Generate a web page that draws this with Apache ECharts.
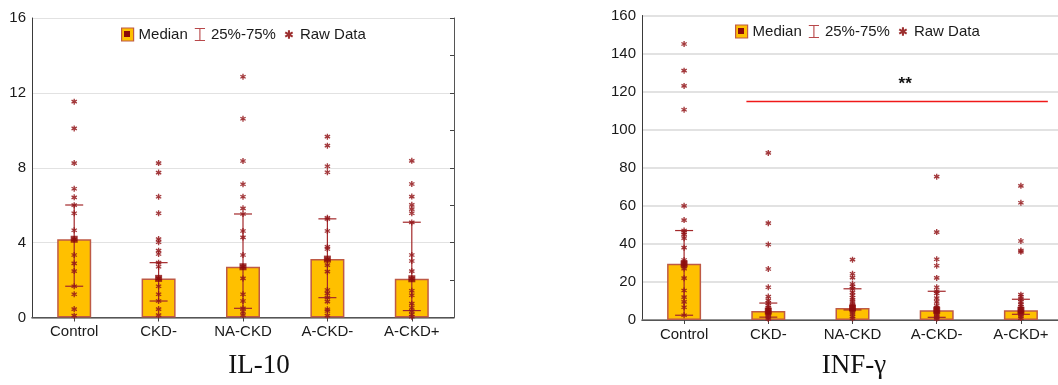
<!DOCTYPE html>
<html>
<head>
<meta charset="utf-8">
<script src="https://cdn.jsdelivr.net/npm/echarts@6/dist/echarts.min.js"></script>
<style>
html,body{margin:0;padding:0;background:#fff;overflow:hidden;}
#chart{width:1070px;height:385px;}
</style>
</head>
<body>
<div id="chart"></div>
<script>
// ---------- DATA ----------
const categories = ['Control', 'CKD-', 'NA-CKD', 'A-CKD-', 'A-CKD+'];

// IL-10
const il10Median = [4.18, 2.09, 2.71, 3.12, 2.07];
const il10Q1 = [1.67, 0.88, 0.49, 1.06, 0.37];
const il10Q3 = [6.01, 2.93, 5.53, 5.27, 5.09];
const il10Raw = [
  [11.53, 10.1, 8.25, 6.88, 6.42, 6.0, 5.57, 4.66, 4.18, 3.34, 2.89, 2.48, 1.67, 1.24, 0.45, 0.1],
  [8.25, 7.74, 6.45, 5.57, 4.19, 4.02, 3.57, 3.39, 2.93, 2.71, 2.09, 1.67, 1.24, 0.88, 0.45, 0.13],
  [12.86, 10.62, 8.36, 7.12, 6.45, 5.83, 5.53, 4.62, 4.28, 3.34, 2.71, 2.09, 1.24, 0.88, 0.49, 0.31, 0.13],
  [9.66, 9.18, 8.08, 7.76, 5.33, 5.26, 4.62, 3.77, 3.66, 3.11, 2.8, 2.45, 1.47, 1.29, 1.06, 0.85, 0.44, 0.35, 0.1],
  [8.37, 7.13, 6.46, 6.02, 5.79, 5.57, 5.08, 3.34, 3.02, 2.48, 2.07, 1.43, 1.19, 0.74, 0.52, 0.34, 0.16, 0.04]
];
const il10Ticks = [0, 4, 8, 12, 16];

// INF-gamma
const infMedian = [29.5, 4.7, 6.3, 5.1, 5.1];
const infQ1 = [2.5, 1.5, 5.3, 1.4, 3.0];
const infQ3 = [47.0, 8.9, 16.4, 15.1, 10.9];
const infRaw = [
  [145, 131, 123, 110.5, 60, 52.5, 47, 46, 45, 43, 38, 31.5, 30.5, 29.5, 28, 27, 22, 15.5, 12, 9.5, 6.7, 2.5],
  [87.8, 50.9, 39.7, 26.8, 17.2, 12.3, 10.3, 8.9, 7.5, 6.5, 5.5, 4.8, 4.2, 3.5, 2.8, 2.0, 1.2, 0.5],
  [31.7, 24.3, 22.3, 18.9, 17.6, 16.4, 14.5, 13, 11.7, 10.5, 9.6, 8.2, 7.4, 6.3, 5.6, 5.3, 4.2, 3.2, 1.8, 0.8],
  [75.3, 46.2, 31.9, 28.5, 22.1, 17.2, 15.1, 14, 11.5, 9.5, 7.5, 6.5, 5.8, 5.1, 4.3, 3.5, 2.6, 1.8, 1.4, 0.6],
  [70.5, 61.6, 41.5, 36.5, 35.8, 13.3, 12.2, 10.9, 9.5, 8.2, 7.0, 6.0, 5.1, 4.3, 3.5, 3.0, 2.0, 1.0]
];
const infTicks = [0, 20, 40, 60, 80, 100, 120, 140, 160];
const significance = { from: 'CKD-', to: 'A-CKD+', value: 115, label: '**' };

const legendNames = ['Median', '25%-75%', 'Raw Data'];
const chartTitles = ['IL-10', 'INF-γ'];

// ---------- STYLE ----------
const FONT = '"Liberation Sans", Arial, sans-serif';
const BAR_FILL = '#FFC000';
const BAR_BORDER = '#BE5A45';
const DARK_RED = '#8B0A0A';
const ERR_COLOR = '#A3282A';
const ASTERISK = 'path://M-1.1,-5L1.1,-5L1.1,5L-1.1,5Z M3.78,-3.45L4.88,-1.55L-3.78,3.45L-4.88,1.55Z M-4.88,-1.55L-3.78,-3.45L4.88,1.55L3.78,3.45Z';
const ASTERISK_LEGEND = 'path://M-7,-7L-6.99,-7L-7,-6.99Z M7,7L6.99,7L7,6.99Z M-1.2,-5L1.2,-5L1.2,5L-1.2,5Z M3.73,-3.539L4.93,-1.461L-3.73,3.539L-4.93,1.461Z M-4.93,-1.461L-3.73,-3.539L4.93,1.461L3.73,3.539Z';
const IBEAM = 'path://M0,0L11,0L11,1.2L6.1,1.2L6.1,12.8L11,12.8L11,14L0,14L0,12.8L4.9,12.8L4.9,1.2L0,1.2Z';

const chart = echarts.init(document.getElementById('chart'), null, { renderer: 'canvas' });

function errRender(params, api) {
  const x = api.value(0);
  const lo = api.coord([x, api.value(1)]);
  const hi = api.coord([x, api.value(2)]);
  const hw = 9;
  const st = { stroke: ERR_COLOR, lineWidth: 1.2 };
  return {
    type: 'group',
    children: [
      { type: 'line', shape: { x1: lo[0], y1: lo[1], x2: hi[0], y2: hi[1] }, style: st },
      { type: 'line', shape: { x1: lo[0] - hw, y1: lo[1], x2: lo[0] + hw, y2: lo[1] }, style: st },
      { type: 'line', shape: { x1: hi[0] - hw, y1: hi[1], x2: hi[0] + hw, y2: hi[1] }, style: st }
    ]
  };
}

function sigRender(params, api) {
  const a = api.coord([api.value(0), api.value(2)]);
  const b = api.coord([api.value(1), api.value(2)]);
  const band = api.size([1, 0])[0];
  const x1 = a[0] - band * 0.26;
  const x2 = b[0] + band * 0.32;
  const y = Math.round(a[1]) + 0.5;
  return {
    type: 'group',
    children: [
      { type: 'line', shape: { x1: x1, y1: y, x2: x2, y2: y }, style: { stroke: '#F01818', lineWidth: 1.6 } },
      { type: 'text', x: (x1 + x2) / 2 + 8, y: y - 17,
        style: { text: significance.label, font: 'bold 17px ' + FONT, fill: '#111', align: 'center', verticalAlign: 'middle', textAlign: 'center', textVerticalAlign: 'middle' } }
    ]
  };
}

function buildSeries(xi, yi, med, q1, q3, raw) {
  const rawData = [];
  raw.forEach((arr, i) => arr.forEach(v => rawData.push([i, v])));
  return [
    { name: 'Median', type: 'bar', xAxisIndex: xi, yAxisIndex: yi, data: med, barWidth: 34,
      itemStyle: { color: BAR_FILL, borderColor: BAR_BORDER, borderWidth: 1.5 }, silent: true, z: 2 },
    { name: '25%-75%', type: 'custom', xAxisIndex: xi, yAxisIndex: yi,
      data: categories.map((c, i) => [i, q1[i], q3[i]]), renderItem: errRender,
      itemStyle: { color: ERR_COLOR }, silent: true, z: 3 },
    { name: 'Raw Data', type: 'scatter', xAxisIndex: xi, yAxisIndex: yi, data: rawData,
      symbol: ASTERISK, symbolSize: 6, itemStyle: { color: '#93161A', opacity: 0.85 }, silent: true, z: 4 },
    { name: 'medianMarker', type: 'scatter', xAxisIndex: xi, yAxisIndex: yi,
      data: med.map((v, i) => [i, v]), symbol: 'rect', symbolSize: 7,
      itemStyle: { color: DARK_RED }, silent: true, z: 5 }
  ];
}

const axisLbl = { fontFamily: FONT, fontSize: 15, color: '#1a1a1a' };

function xAxes(gi) {
  return [
    { type: 'category', gridIndex: gi, data: categories, position: 'bottom', boundaryGap: true,
      axisLine: { lineStyle: { color: '#7a7a7a', width: 1.5 } }, axisTick: { show: false },
      axisLabel: Object.assign({ margin: 7 }, axisLbl) },
    { type: 'category', gridIndex: gi, data: categories, position: 'top', boundaryGap: true,
      axisLine: { lineStyle: { color: '#555', width: 1 } },
      axisTick: { show: true, inside: true, alignWithLabel: true, length: 4, lineStyle: { color: '#444' } },
      axisLabel: { show: false } }
  ];
}

function yAxes(gi, max, interval, minorInterval) {
  return [
    { type: 'value', gridIndex: gi, min: 0, max: max, interval: interval, position: 'left',
      axisLine: { show: true, lineStyle: { color: '#3a3a3a', width: 1 } }, axisTick: { show: false },
      axisLabel: Object.assign({ margin: 6 }, axisLbl),
      splitLine: { show: true, lineStyle: { color: '#e2e2e2', width: gi === 0 ? 1.2 : 2 } } },
    { type: 'value', gridIndex: gi, min: 0, max: max, interval: minorInterval, position: 'right',
      axisLine: { show: true, lineStyle: { color: '#555', width: 1 } },
      axisTick: { show: true, inside: true, length: 4, lineStyle: { color: '#444' } },
      axisLabel: { show: false }, splitLine: { show: false } }
  ];
}

function legend(left, top) {
  return {
    left: left, top: top, padding: 0, orient: 'horizontal', itemWidth: 12, itemHeight: 13, itemGap: 7,
    textStyle: { fontFamily: FONT, fontSize: 15, color: '#1a1a1a' },
    selectedMode: false,
    data: [
      { name: legendNames[0], icon: 'rect', itemStyle: { color: BAR_FILL, borderColor: BAR_BORDER, borderWidth: 1.2 } },
      { name: legendNames[1], icon: IBEAM, itemStyle: { color: '#B8484A' } },
      { name: legendNames[2], icon: ASTERISK_LEGEND, itemStyle: { color: DARK_RED } }
    ]
  };
}

const L0 = { left: 121, top: 27 };
const L1 = { left: 735, top: 24 };

const option = {
  animation: false,
  backgroundColor: '#fff',
  grid: [
    { left: 32, top: 18, width: 422, height: 299.5, containLabel: false },
    { left: 642, top: 15.5, width: 421, height: 304.5, containLabel: false }
  ],
  legend: [legend(L0.left, L0.top), legend(L1.left, L1.top)],
  xAxis: xAxes(0).concat(xAxes(1)),
  yAxis: yAxes(0, il10Ticks[il10Ticks.length - 1], il10Ticks[1] - il10Ticks[0], 2)
    .concat(yAxes(1, infTicks[infTicks.length - 1], infTicks[1] - infTicks[0], 20)),
  series: buildSeries(0, 0, il10Median, il10Q1, il10Q3, il10Raw)
    .concat(buildSeries(2, 2, infMedian, infQ1, infQ3, infRaw))
    .concat([{
      name: 'significance', type: 'custom', xAxisIndex: 2, yAxisIndex: 2, silent: true, z: 6,
      data: [[categories.indexOf(significance.from), categories.indexOf(significance.to), significance.value]],
      renderItem: sigRender
    }]),
  graphic: [
    { type: 'rect', left: L0.left + 3, top: L0.top + 4, shape: { width: 6, height: 6 }, style: { fill: DARK_RED }, z: 100 },
    { type: 'rect', left: L1.left + 3, top: L1.top + 4, shape: { width: 6, height: 6 }, style: { fill: DARK_RED }, z: 100 },
    { type: 'text', x: 259, y: 366, style: { text: chartTitles[0], font: '27px "Liberation Serif", "Times New Roman", serif', fill: '#111', align: 'center', verticalAlign: 'middle', textAlign: 'center', textVerticalAlign: 'middle' } },
    { type: 'text', x: 854, y: 366, style: { text: chartTitles[1], font: '27px "Liberation Serif", "Times New Roman", serif', fill: '#111', align: 'center', verticalAlign: 'middle', textAlign: 'center', textVerticalAlign: 'middle' } }
  ]
};

chart.setOption(option);
</script>
</body>
</html>
